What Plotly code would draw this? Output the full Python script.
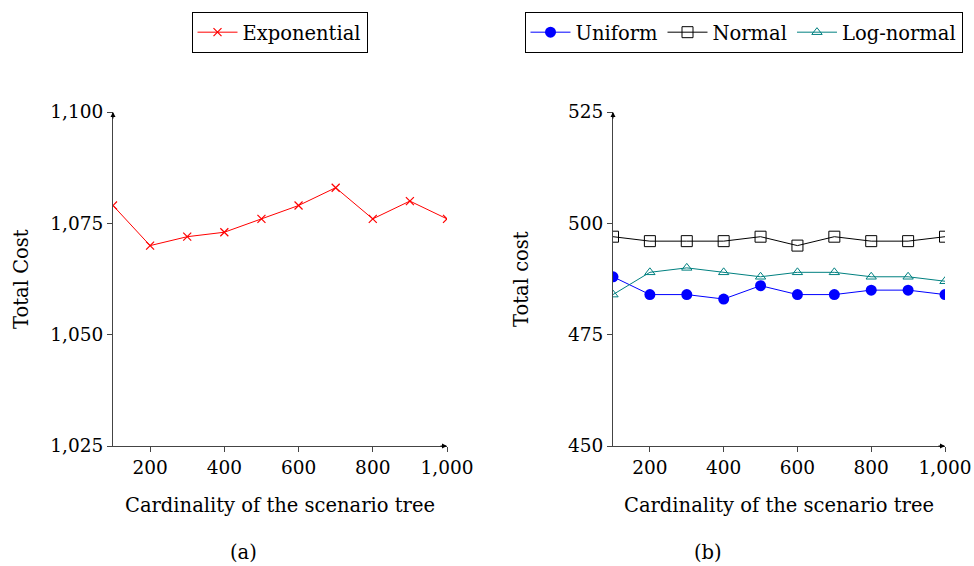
import plotly.graph_objects as go

cardinality = [100, 200, 300, 400, 500, 600, 700, 800, 900, 1000]
exponential = [1079, 1070, 1072, 1073, 1076, 1079, 1083, 1076, 1080, 1076]
uniform = [488, 484, 484, 483, 486, 484, 484, 485, 485, 484]
normal = [497, 496, 496, 496, 497, 495, 497, 496, 496, 497]
lognormal = [484, 489, 490, 489, 488, 489, 489, 488, 488, 487]

x_ticks = [200, 400, 600, 800, 1000]
y_ticks_a = [1025, 1050, 1075, 1100]
y_ticks_b = [450, 475, 500, 525]

FONT = "DejaVu Serif"
FS = 19.5
TFS = 18.5
W, H = 974, 566


def px(x):
    return x / W


def py(y):
    return 1 - y / H


fig = go.Figure()
fig.add_trace(go.Scatter(x=cardinality, y=exponential, mode="lines+markers", name="Exponential",
                         line=dict(color="red", width=1), showlegend=True,
                         marker=dict(symbol="x-thin", size=8, line=dict(color="red", width=1.2)),
                         xaxis="x", yaxis="y", legend="legend"))
fig.add_trace(go.Scatter(x=cardinality, y=uniform, mode="lines+markers", name="Uniform",
                         line=dict(color="blue", width=1), showlegend=True,
                         marker=dict(symbol="circle", size=11, color="blue"),
                         xaxis="x2", yaxis="y2", legend="legend2"))
fig.add_trace(go.Scatter(x=cardinality, y=normal, mode="lines+markers", name="Normal",
                         line=dict(color="black", width=1), showlegend=True,
                         marker=dict(symbol="square-open", size=11, color="black", line=dict(width=1)),
                         xaxis="x2", yaxis="y2", legend="legend2"))
fig.add_trace(go.Scatter(x=cardinality, y=lognormal, mode="lines+markers", name="Log-normal",
                         line=dict(color="teal", width=1), showlegend=True,
                         marker=dict(symbol="triangle-up-open", size=9, color="teal", line=dict(width=1)),
                         xaxis="x2", yaxis="y2", legend="legend2"))

axcol = "#444"
tickfont = dict(family=FONT, size=TFS, color="black")
common_x = dict(range=[100, 1000], tickvals=x_ticks, tickformat=",d", showgrid=False, zeroline=False,
                showline=True, linecolor=axcol, linewidth=1, ticks="outside", ticklen=5,
                tickcolor=axcol, tickfont=tickfont, automargin=False)
common_y = dict(showgrid=False, zeroline=False, showline=True, linecolor=axcol, linewidth=1,
                ticks="outside", ticklen=5, tickcolor=axcol, tickformat=",d",
                tickfont=tickfont, automargin=False)

legfont = dict(family=FONT, size=FS, color="black")
fig.update_layout(
    width=W, height=H, margin=dict(l=0, r=0, t=0, b=0, autoexpand=False),
    plot_bgcolor="white", paper_bgcolor="white", showlegend=True,
    font=dict(family=FONT, size=FS, color="black"),
    xaxis=dict(domain=[px(113), px(447)], anchor="y", **common_x),
    yaxis=dict(domain=[py(446), py(112)], anchor="x", range=[1025, 1100], tickvals=y_ticks_a, **common_y),
    xaxis2=dict(domain=[px(613), px(945)], anchor="y2", **common_x),
    yaxis2=dict(domain=[py(446), py(112)], anchor="x2", range=[450, 525], tickvals=y_ticks_b, **common_y),
    legend=dict(orientation="h", x=px(279.5), xanchor="center", y=py(12), yanchor="top",
                bordercolor="black", borderwidth=1, font=legfont,
                itemwidth=40, bgcolor="white"),
    legend2=dict(orientation="h", x=px(743.5), xanchor="center", y=py(12), yanchor="top",
                 bordercolor="black", borderwidth=1, font=legfont,
                 itemwidth=40, bgcolor="white"),
)


def label(x, y, text, angle=0):
    return dict(x=px(x), y=py(y), xref="paper", yref="paper", text=text, textangle=angle,
                xanchor="center", yanchor="middle", showarrow=False, font=dict(family=FONT, size=FS))


ann = [
    label(280, 505, "Cardinality of the scenario tree"),
    label(779, 505, "Cardinality of the scenario tree"),
    label(21, 279, "Total Cost", -90),
    label(521, 279, "Total cost", -90),
    label(243, 552, "(a)"),
    label(708, 552, "(b)"),
]
for xr, yr, xmin, xmax, ymin, ymax in [("x", "y", 100, 1000, 1025, 1100), ("x2", "y2", 100, 1000, 450, 525)]:
    ann.append(dict(x=xmin, y=ymax, xref=xr, yref=yr, ax=0, ay=8, showarrow=True, arrowhead=2,
                    arrowsize=1, arrowwidth=1, arrowcolor="black", text=""))
    ann.append(dict(x=xmax, y=ymin, xref=xr, yref=yr, ax=-8, ay=0, showarrow=True, arrowhead=2,
                    arrowsize=1, arrowwidth=1, arrowcolor="black", text=""))
fig.update_layout(annotations=ann)

fig.write_html("out.html", config={"displayModeBar": False},
               post_script="document.body.style.margin='0';document.body.style.overflow='hidden';")
